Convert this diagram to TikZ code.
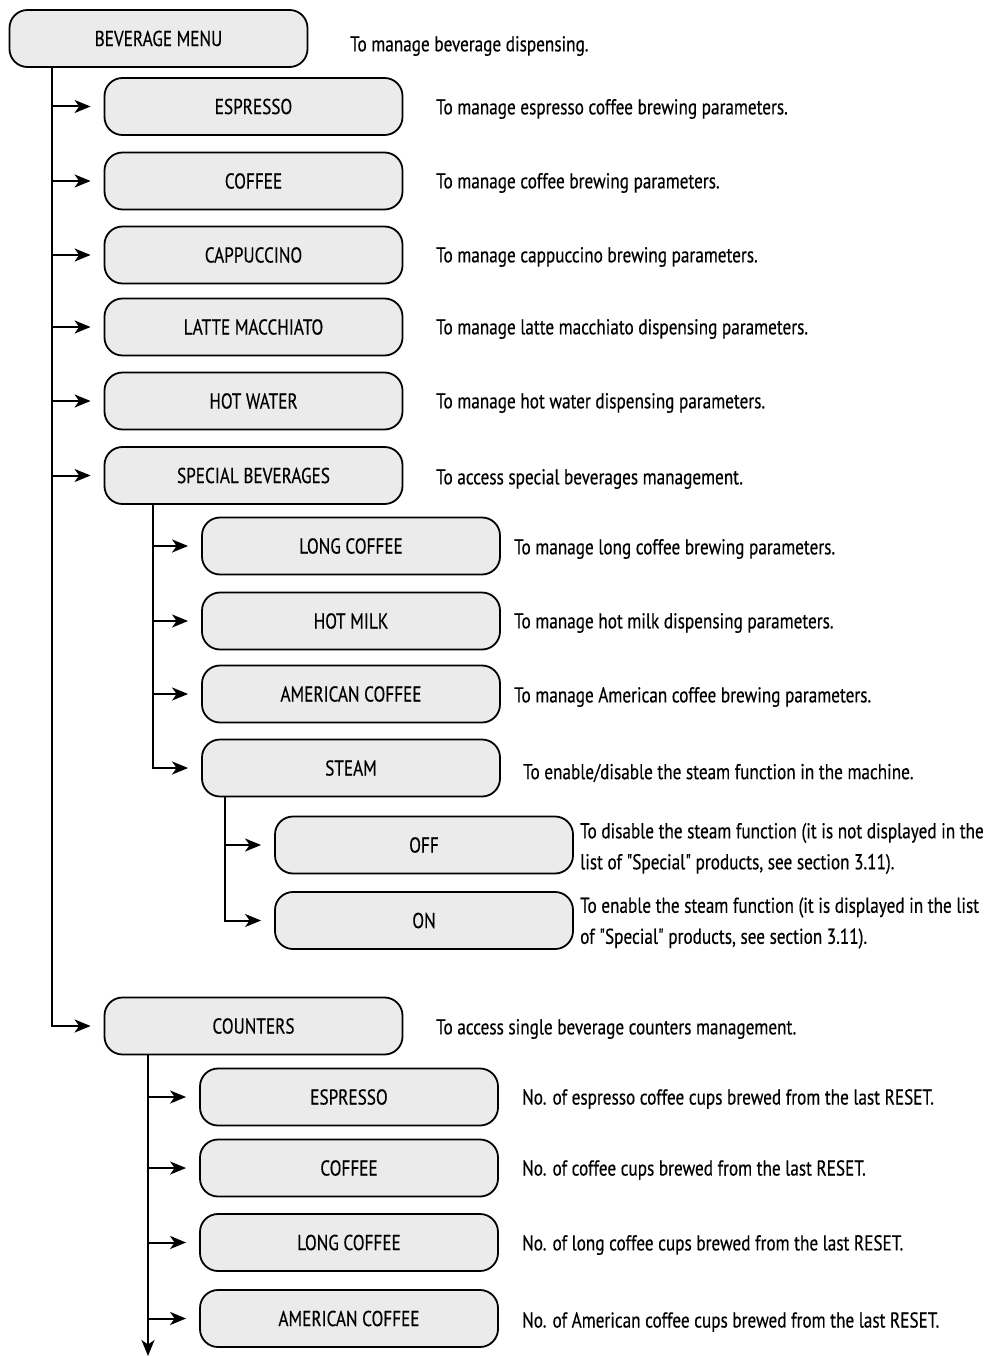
\documentclass[tikz,border=0pt]{standalone}
\usepackage{fontspec}
\setmainfont{PT Sans}[FakeStretch=0.8, FakeBold=0.4, Ligatures=TeXOff]
\usetikzlibrary{arrows.meta}
\definecolor{boxfill}{RGB}{235,235,235}
\begin{document}
\begin{tikzpicture}[x=1pt,y=-1pt,
  box/.style={draw, line width=1.8pt, fill=boxfill, rounded corners=18pt, minimum width=298pt, minimum height=57pt, inner sep=0pt, font=\fontsize{21.5}{24}\selectfont},
  desc/.style={anchor=west, inner sep=0pt, align=left, font=\fontsize{21.5}{31}\selectfont},
  conn/.style={line width=2pt},
  arr/.style={conn, -{Stealth[length=16pt,width=13pt,inset=4.5pt]}}]
\useasboundingbox (0,0) rectangle (995,1356);

% boxes
\node[box] (menu) at (158.5,38.5) {BEVERAGE MENU};
\node[box] (esp) at (253.5,106.5) {ESPRESSO};
\node[box] (cof) at (253.5,181) {COFFEE};
\node[box] (cap) at (253.5,255) {CAPPUCCINO};
\node[box] (lat) at (253.5,327) {LATTE MACCHIATO};
\node[box] (hot) at (253.5,401) {HOT WATER};
\node[box] (spe) at (253.5,475.5) {SPECIAL BEVERAGES};
\node[box] (lng) at (351,546) {LONG COFFEE};
\node[box] (mlk) at (351,621) {HOT MILK};
\node[box] (ame) at (351,694) {AMERICAN COFFEE};
\node[box] (stm) at (351,768) {STEAM};
\node[box] (off) at (424,845) {OFF};
\node[box] (on) at (424,920.5) {ON};
\node[box] (cnt) at (253.5,1026) {COUNTERS};
\node[box] (cesp) at (349,1097) {ESPRESSO};
\node[box] (ccof) at (349,1168) {COFFEE};
\node[box] (clng) at (349,1242.5) {LONG COFFEE};
\node[box] (came) at (349,1318.5) {AMERICAN COFFEE};

% descriptions
\node[desc] (dmenu) at (350,46) {To manage beverage dispensing.};
\node[desc] (desp) at (436,109) {To manage espresso coffee brewing parameters.};
\node[desc] (dcof) at (436,183) {To manage coffee brewing parameters.};
\node[desc] (dcap) at (436,257) {To manage cappuccino brewing parameters.};
\node[desc] (dlat) at (436,329) {To manage latte macchiato dispensing parameters.};
\node[desc] (dhot) at (436,403) {To manage hot water dispensing parameters.};
\node[desc] (dspe) at (436,479) {To access special beverages management.};
\node[desc] (dlng) at (514,549) {To manage long coffee brewing parameters.};
\node[desc] (dmlk) at (514,623) {To manage hot milk dispensing parameters.};
\node[desc] (dame) at (514,697) {To manage American coffee brewing parameters.};
\node[desc] (dstm) at (523,773) {To enable/disable the steam function in the machine.};
\node[desc] (doff) at (580,848.5) {To disable the steam function (it is not displayed in the\\list of "Special" products, see section 3.11).};
\node[desc] (don) at (580,923) {To enable the steam function (it is displayed in the list\\of "Special" products, see section 3.11).};
\node[desc] (dcnt) at (436,1029) {To access single beverage counters management.};
\node[desc] (dcesp) at (522,1099) {No. of espresso coffee cups brewed from the last RESET.};
\node[desc] (dccof) at (522,1170) {No. of coffee cups brewed from the last RESET.};
\node[desc] (dclng) at (522,1245) {No. of long coffee cups brewed from the last RESET.};
\node[desc] (dcame) at (522,1322) {No. of American coffee cups brewed from the last RESET.};

% trunk coordinates
\coordinate (t1) at (52,0);
\coordinate (t2) at (153,0);
\coordinate (t3) at (225,0);
\coordinate (t4) at (148,0);
\coordinate (bottom) at (148,1356);

% main trunk
\draw[arr] (t1 |- menu.south) |- ([xshift=-13pt]cnt.west);
\foreach \n in {esp,cof,cap,lat,hot,spe}
  \draw[arr] (t1 |- \n.west) -- ([xshift=-13pt]\n.west);

% special trunk
\draw[arr] (t2 |- spe.south) |- ([xshift=-13pt]stm.west);
\foreach \n in {lng,mlk,ame}
  \draw[arr] (t2 |- \n.west) -- ([xshift=-13pt]\n.west);

% steam trunk
\draw[arr] (t3 |- stm.south) |- ([xshift=-13pt]on.west);
\draw[arr] (t3 |- off.west) -- ([xshift=-13pt]off.west);

% counters trunk
\draw[arr] (t4 |- cnt.south) -- (bottom);
\foreach \n in {cesp,ccof,clng,came}
  \draw[arr] (t4 |- \n.west) -- ([xshift=-13pt]\n.west);
\end{tikzpicture}
\end{document}
